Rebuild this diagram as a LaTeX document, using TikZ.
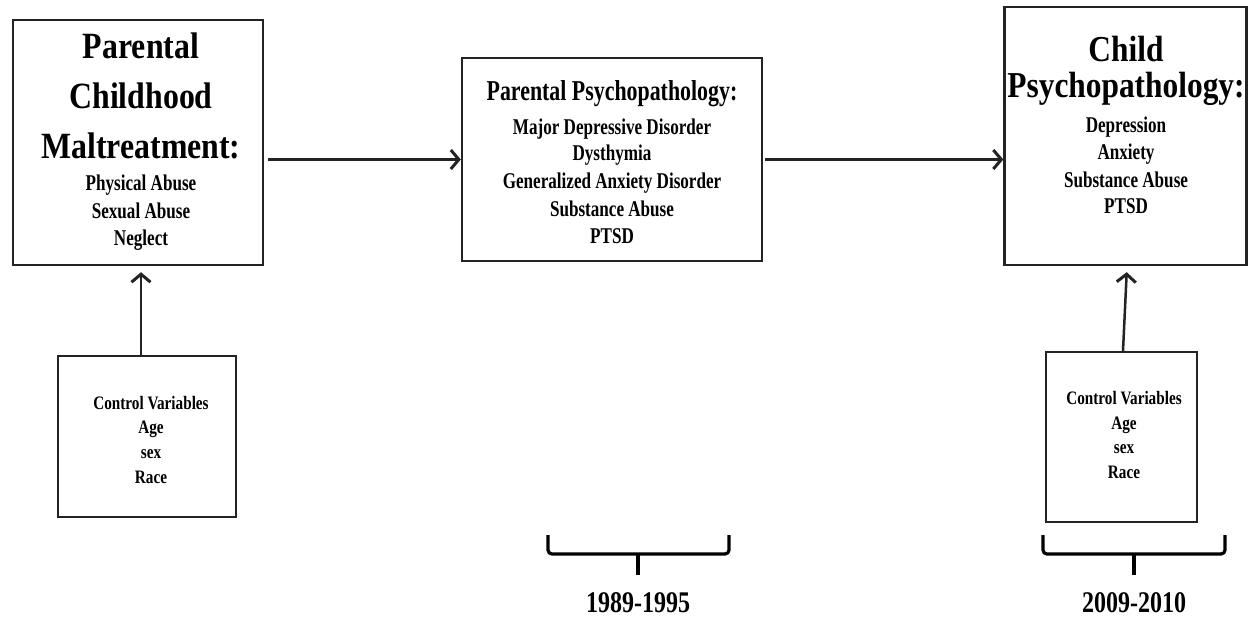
\documentclass[tikz,border=0pt]{standalone}
\usepackage{fontspec}
\setmainfont{Liberation Serif}
\newfontfamily\fsWide[FakeStretch=0.86]{Liberation Serif}
\newfontfamily\fsMid[FakeStretch=0.80]{Liberation Serif}
\newfontfamily\fsNarrow[FakeStretch=0.76]{Liberation Serif}
\usetikzlibrary{arrows.meta}
\definecolor{edge}{RGB}{35,35,35}
\tikzset{
  box/.style={draw=edge, line width=2.4pt, fill=white, inner sep=0pt},
  ln/.style={anchor=base, inner sep=0pt, text=black},
  bigA/.style={ln, font=\fsWide\bfseries\fontsize{37}{37}\selectfont},
  bigC/.style={ln, font=\fsWide\bfseries\fontsize{36.5}{36.5}\selectfont},
  midB/.style={ln, font=\fsNarrow\bfseries\fontsize{28.8}{28.8}\selectfont},
  sub/.style={ln, font=\fsNarrow\bfseries\fontsize{22.5}{22.5}\selectfont},
  ctl/.style={ln, font=\fsMid\bfseries\fontsize{19}{19}\selectfont},
  yr/.style={ln, font=\fsMid\bfseries\fontsize{30}{30}\selectfont},
  arr/.style={draw=edge, line width=2.5pt, -{Straight Barb[length=8pt,width=19pt,line width=3pt]}},
  brk/.style={draw=black, line width=3.2pt, rounded corners=4pt}
}
\begin{document}
\begin{tikzpicture}[x=1pt,y=-1pt]
\useasboundingbox (0,0) rectangle (1248,618);

% boxes
\node[box, minimum width=250pt, minimum height=245pt] (A) at (138,142.5) {};
\node[box, minimum width=300pt, minimum height=203pt] (B) at (612,159.5) {};
\node[box, minimum width=242pt, minimum height=258pt] (C) at (1125.5,136) {};
\node[box, minimum width=178pt, minimum height=161pt] (CL) at (147,436.5) {};
\node[box, minimum width=151pt, minimum height=170pt] (CR) at (1121.5,437) {};

% box A text
\node[bigA] (a1) at (141,59) {Parental};
\node[bigA] (a2) at (141,108) {Childhood};
\node[bigA] (a3) at (141,158) {Maltreatment:};
\node[sub] (a4) at (141,190) {Physical Abuse};
\node[sub] (a5) at (141,218) {Sexual Abuse};
\node[sub] (a6) at (141,245) {Neglect};

% box B text
\node[midB] (b1) at (612,100) {Parental Psychopathology:};
\node[sub] (b2) at (612,134) {Major Depressive Disorder};
\node[sub] (b3) at (612,160) {Dysthymia};
\node[sub] (b4) at (612,188) {Generalized Anxiety Disorder};
\node[sub] (b5) at (612,216) {Substance Abuse};
\node[sub] (b6) at (612,243) {PTSD};

% box C text
\node[bigC] (c1) at (1126,62) {Child};
\node[bigC] (c2) at (1126,98) {Psychopathology:};
\node[sub] (c3) at (1126,132) {Depression};
\node[sub] (c4) at (1126,159) {Anxiety};
\node[sub] (c5) at (1126,187) {Substance Abuse};
\node[sub] (c6) at (1126,213) {PTSD};

% control boxes text
\node[ctl] (l1) at (151,409) {Control Variables};
\node[ctl] (l2) at (151,433) {Age};
\node[ctl] (l3) at (151,458) {sex};
\node[ctl] (l4) at (151,483) {Race};

\node[ctl] (r1) at (1124,404) {Control Variables};
\node[ctl] (r2) at (1124,429) {Age};
\node[ctl] (r3) at (1124,453) {sex};
\node[ctl] (r4) at (1124,478) {Race};

% arrows
\draw[arr, shorten <=4pt] (A.east |- B.west) -- (B.west);
\draw[arr, shorten <=2pt] (B.east) -- (C.west |- B.east);
\draw[arr, shorten >=6pt] ([xshift=-6pt]CL.north) -- ([xshift=3pt]A.south);
\draw[arr, shorten >=6pt] ([xshift=1.5pt]CR.north) -- ([xshift=1.5pt]C.south);

% years
\node[yr] (y1) at (638,612) {1989-1995};
\node[yr] (y2) at (1134,612) {2009-2010};

% brackets
\draw[brk] (548,535) -- (548,554) -- (729,554) -- (729,535);
\draw[brk] (638,554) -- (638,575);
\draw[brk] (1043,535) -- (1043,554) -- (1225,554) -- (1225,535);
\draw[brk] (1134,554) -- (1134,575);
\end{tikzpicture}
\end{document}
